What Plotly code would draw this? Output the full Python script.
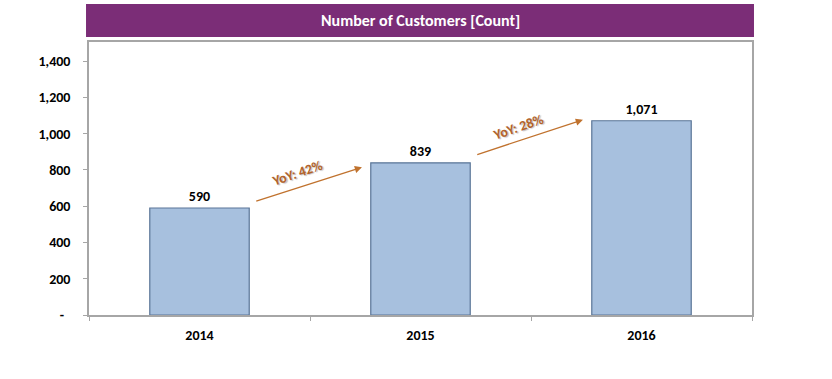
import plotly.graph_objects as go

years = ["2014", "2015", "2016"]
customers = [590, 839, 1071]
y_tickvals = [0, 200, 400, 600, 800, 1000, 1200, 1400]
y_ticktext = ["-\u00a0\u00a0", "200", "400", "600", "800", "1,000", "1,200", "1,400"]
title_text = "Number of Customers [Count]"

FONT = "Carlito, Lato, 'Open Sans', sans-serif"
BAR_FILL = "#A7C0DE"
BAR_LINE = "#5A7597"
ARROW_COL = "#C0722E"
TEXT_COL = "#B3632A"

fig = go.Figure()
fig.add_trace(go.Bar(
    x=years, y=customers, width=0.45,
    marker=dict(color=BAR_FILL, line=dict(color=BAR_LINE, width=1.2)),
    text=[f"{v:,}" for v in customers], textposition="outside",
    textfont=dict(family=FONT, size=14, color="#000000", weight="bold"),
    cliponaxis=False, hoverinfo="skip",
))

annotations = []
# YoY arrows and labels computed from the data
start_off = [35, 43]
end_off = [-25, 5]
label_off = [190, 195]
for i in range(len(customers) - 1):
    growth = customers[i + 1] / customers[i] - 1
    x0, y0 = i + 0.25, customers[i] + start_off[i]
    x1, y1 = i + 0.735, customers[i + 1] + end_off[i]
    annotations.append(dict(
        x=x1, y=y1, ax=x0, ay=y0, xref="x", yref="y", axref="x", ayref="y",
        text="", showarrow=True, arrowhead=2, arrowsize=1.1, arrowwidth=1.3,
        arrowcolor=ARROW_COL, standoff=0, startstandoff=0,
    ))
    annotations.append(dict(
        x=i + 0.44, y=customers[i] + label_off[i], xref="x", yref="y",
        text=f"<b>YoY: {growth:.0%}</b>", showarrow=False, textangle=-19,
        font=dict(family=FONT, size=14, color=TEXT_COL,
                  shadow="1px 1px 1px rgba(0,0,0,0.25)"),
    ))

annotations.append(dict(
    x=0.5, y=1.079, xref="paper", yref="paper", text=f"<b>{title_text}</b>",
    showarrow=False, font=dict(family=FONT, size=16, color="white"),
    xanchor="center", yanchor="middle",
))

fig.update_layout(
    width=832, height=379,
    margin=dict(l=89, r=80, t=42, b=64),
    paper_bgcolor="white", plot_bgcolor="white",
    showlegend=False,
    annotations=annotations,
    shapes=[dict(type="rect", xref="paper", yref="paper",
                 x0=-0.0045, x1=1.003, y0=1.018, y1=1.139,
                 fillcolor="#7B2D77", line=dict(width=0), layer="above")],
    font=dict(family=FONT),
)
fig.update_xaxes(
    type="category", range=[-0.5, 2.5],
    showline=True, mirror=True, linecolor="#A6A6A6", linewidth=1.5,
    ticks="outside", tickson="boundaries", ticklen=4, tickcolor="#A6A6A6",
    tickfont=dict(family=FONT, size=14, color="#000000", weight="bold"),
    showgrid=False, ticklabelstandoff=6,
)
fig.update_yaxes(
    range=[0, 1505], tickvals=y_tickvals, ticktext=y_ticktext,
    showline=True, mirror=True, linecolor="#A6A6A6", linewidth=1.5,
    ticks="outside", ticklen=4, tickcolor="#A6A6A6",
    tickfont=dict(family=FONT, size=14, color="#000000", weight="bold"),
    showgrid=False, zeroline=False, ticklabelstandoff=10,
)

fig.write_html("out.html", config={"displayModeBar": False},
               post_script="document.body.style.margin='0';")
